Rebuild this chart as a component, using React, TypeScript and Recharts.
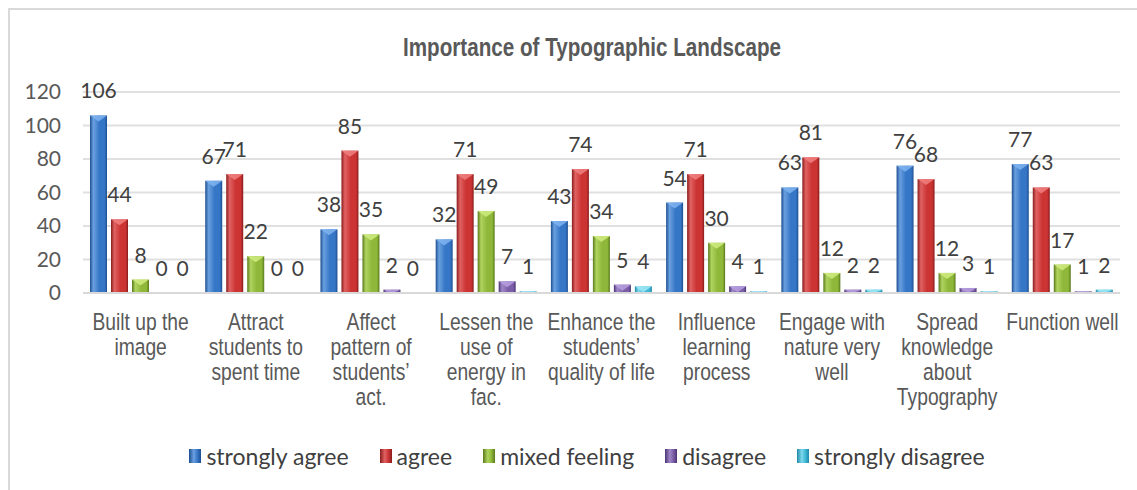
import React from 'react';
import { BarChart, Bar, XAxis, YAxis, CartesianGrid, Legend, LabelList } from 'recharts';

const categories = [
  'Built up the image',
  'Attract students to spent time',
  "Affect pattern of students' act.",
  'Lessen the use of energy in fac.',
  'Enhance the students’ quality of life',
  'Influence learning process',
  'Engage with nature very well',
  'Spread knowledge about Typography',
  'Function well',
];

const tickLines = [
  ['Built up the', 'image'],
  ['Attract', 'students to', 'spent time'],
  ['Affect', 'pattern of', 'students’', 'act.'],
  ['Lessen the', 'use of', 'energy in', 'fac.'],
  ['Enhance the', 'students’', 'quality of life'],
  ['Influence', 'learning', 'process'],
  ['Engage with', 'nature very', 'well'],
  ['Spread', 'knowledge', 'about', 'Typography'],
  ['Function well'],
];

const stronglyAgree = [106, 67, 38, 32, 43, 54, 63, 76, 77];
const agree = [44, 71, 85, 71, 74, 71, 81, 68, 63];
const mixedFeeling = [8, 22, 35, 49, 34, 30, 12, 12, 17];
const disagree = [0, 0, 2, 7, 5, 4, 2, 3, 1];
const stronglyDisagree = [0, 0, 0, 1, 4, 1, 2, 1, 2];

const yTicks = [0, 20, 40, 60, 80, 100, 120];

const data = categories.map((name, i) => ({
  name,
  sa: stronglyAgree[i],
  a: agree[i],
  mf: mixedFeeling[i],
  d: disagree[i],
  sd: stronglyDisagree[i],
}));

const series = [
  { key: 'sa', name: 'strongly agree', dark: '#1d4f92', mid: '#3676c6', light: '#6aa0e0', cap: '#7fb4f0' },
  { key: 'a', name: 'agree', dark: '#8a1c1c', mid: '#cc3434', light: '#e06262', cap: '#f08080' },
  { key: 'mf', name: 'mixed feeling', dark: '#5a7a1c', mid: '#8fb83a', light: '#b0d460', cap: '#d0ec80' },
  { key: 'd', name: 'disagree', dark: '#4a3474', mid: '#7c5ea8', light: '#a088c8', cap: '#b8a0e0' },
  { key: 'sd', name: 'strongly disagree', dark: '#1f8aa8', mid: '#40b8d6', light: '#80d8ec', cap: '#a0e8f6' },
];

const labelFont = 'Lato, "Noto Sans", sans-serif';
const narrowFont = '"Liberation Sans", Arial, sans-serif';

const makeShape = (s: typeof series[number]) => (props: any) => {
  const { x, y, width, height } = props;
  if (!height || height <= 0) return <g />;
  const capH = Math.min(6, height);
  return (
    <g>
      <rect x={x} y={y} width={width} height={height} fill={`url(#g-${s.key})`} />
      <polygon
        points={`${x},${y} ${x + width},${y} ${x + width / 2},${y + capH}`}
        fill={s.cap}
        opacity={0.85}
      />
    </g>
  );
};

const ValueLabel = (props: any) => {
  const { x, y, width, value } = props;
  return (
    <text
      x={x + width / 2}
      y={y - 17}
      textAnchor="middle"
      fontFamily={labelFont}
      fontSize={21}
      fill="#404040"
    >
      {value}
    </text>
  );
};

// Arial Narrow look: regular sans squeezed horizontally
const CategoryTick = (props: any) => {
  const { x, y, index } = props;
  const lines = tickLines[index] || [];
  return (
    <g transform={`translate(${x},${y}) scale(0.82,1)`}>
      <text textAnchor="middle" fontFamily={narrowFont} fontSize={23.5} fill="#595959">
        {lines.map((l, i) => (
          <tspan key={i} x={0} y={37 + i * 25}>
            {l}
          </tspan>
        ))}
      </text>
    </g>
  );
};

const LegendContent = () => (
  <div
    style={{
      display: 'flex',
      justifyContent: 'center',
      alignItems: 'center',
      paddingLeft: 62,
      paddingTop: 4,
      fontFamily: labelFont,
      fontSize: 23,
      color: '#404040',
    }}
  >
    {series.map((s) => (
      <div key={s.key} style={{ display: 'flex', alignItems: 'center', marginRight: 31 }}>
        <span
          style={{
            display: 'inline-block',
            width: 12,
            height: 14,
            marginRight: 5,
            background: `linear-gradient(to right, ${s.dark}, ${s.light} 40%, ${s.mid} 70%, ${s.dark})`,
          }}
        />
        {s.name}
      </div>
    ))}
  </div>
);

export default function App() {
  return (
    <div style={{ position: 'absolute', left: 0, top: 0, width: 1137, height: 490, background: '#fff' }}>
      <div
        style={{
          position: 'absolute',
          left: 8,
          top: 8,
          right: 0,
          bottom: 0,
          borderTop: '2px solid #d9d9d9',
          borderLeft: '2px solid #d9d9d9',
        }}
      />
      <svg style={{ position: 'absolute', left: 0, top: 0 }} width={1137} height={80}>
        <text
          x={403}
          y={56}
          textLength={378}
          lengthAdjust="spacingAndGlyphs"
          fontFamily={narrowFont}
          fontWeight="bold"
          fontSize={25}
          fill="#595959"
        >
          Importance of Typographic Landscape
        </text>
      </svg>
      <BarChart
        width={1137}
        height={490}
        data={data}
        margin={{ top: 92, right: 17, left: 23, bottom: 12 }}
        barSize={17}
        barGap={4}
      >
        <defs>
          {series.map((s) => (
            <linearGradient key={s.key} id={`g-${s.key}`} x1="0" y1="0" x2="1" y2="0">
              <stop offset="0%" stopColor={s.dark} />
              <stop offset="20%" stopColor={s.light} />
              <stop offset="55%" stopColor={s.mid} />
              <stop offset="85%" stopColor={s.mid} />
              <stop offset="100%" stopColor={s.dark} />
            </linearGradient>
          ))}
        </defs>
        <CartesianGrid vertical={false} stroke="#e0e0e0" strokeWidth={2} />
        <XAxis
          dataKey="name"
          interval={0}
          height={145}
          tickLine={false}
          tickSize={0}
          tickMargin={0}
          axisLine={{ stroke: '#d9d9d9', strokeWidth: 2 }}
          tick={<CategoryTick />}
        />
        <YAxis
          width={60}
          domain={[0, 120]}
          ticks={yTicks}
          axisLine={false}
          tickLine={false}
          tickSize={0}
          tickMargin={22}
          tick={{ fontFamily: labelFont, fontSize: 21, fill: '#595959' }}
        />
        <Legend verticalAlign="bottom" height={40} content={<LegendContent />} />
        {series.map((s) => (
          <Bar key={s.key} dataKey={s.key} name={s.name} isAnimationActive={false} shape={makeShape(s)}>
            <LabelList dataKey={s.key} content={<ValueLabel />} />
          </Bar>
        ))}
      </BarChart>
    </div>
  );
}
